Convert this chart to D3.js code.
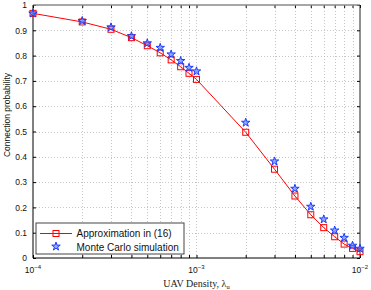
<!DOCTYPE html>
<html>
<head>
<meta charset="utf-8">
<script src="https://cdn.jsdelivr.net/npm/d3@7"></script>
<style>
  body { margin: 0; background: #fff; }
  svg { display: block; font-family: "Liberation Sans", Arial, sans-serif; }
</style>
</head>
<body>
<div id="container"></div>
<script>
/* CONSTANTS AND GLOBALS */
const width = 371,
  height = 290,
  margin = { top: 5, bottom: 32, left: 33, right: 11 };

/* DATA */
const density = [1e-4, 2e-4, 3e-4, 4e-4, 5e-4, 6e-4, 7e-4, 8e-4, 9e-4,
  1e-3, 2e-3, 3e-3, 4e-3, 5e-3, 6e-3, 7e-3, 8e-3, 9e-3, 1e-2];
const approx = [0.967, 0.933, 0.904, 0.871, 0.839, 0.811, 0.783, 0.756, 0.730,
  0.706, 0.497, 0.351, 0.245, 0.171, 0.120, 0.084, 0.055, 0.038, 0.025];
const monteCarlo = [0.967, 0.937, 0.912, 0.877, 0.849, 0.831, 0.805, 0.779, 0.752,
  0.738, 0.535, 0.382, 0.274, 0.203, 0.153, 0.109, 0.080, 0.049, 0.037];
const yTicks = [0, 0.1, 0.2, 0.3, 0.4, 0.5, 0.6, 0.7, 0.8, 0.9, 1];
const xMajor = [1e-4, 1e-3, 1e-2];
const xMajorExp = ["\u22124", "\u22123", "\u22122"];
const seriesNames = ["Approximation in (16)", "Monte Carlo simulation"];

// SCALES
const xScale = d3.scaleLog()
  .domain([1e-4, 1e-2])
  .range([margin.left, width - margin.right]);

const yScale = d3.scaleLinear()
  .domain([0, 1])
  .range([height - margin.bottom, margin.top]);

const x0 = xScale.range()[0], x1 = xScale.range()[1];
const y0 = yScale.range()[0], y1 = yScale.range()[1];

// all decade ticks 2..9
const xAll = xScale.ticks();

// CREATE SVG ELEMENT
const svg = d3.select("#container")
  .append("svg")
  .attr("width", width)
  .attr("height", height);

// GRID
svg.append("g")
  .selectAll("line")
  .data(xAll.filter(d => d > 1e-4 && d < 1e-2))
  .join("line")
  .attr("x1", d => Math.round(xScale(d)) + 0.5)
  .attr("x2", d => Math.round(xScale(d)) + 0.5)
  .attr("y1", y1).attr("y2", y0)
  .attr("stroke", "#b8b8b8")
  .attr("stroke-width", 0.8)
  .attr("stroke-dasharray", "1,2");

svg.append("g")
  .selectAll("line")
  .data(yTicks.filter(d => d > 0 && d < 1))
  .join("line")
  .attr("x1", x0).attr("x2", x1)
  .attr("y1", d => Math.round(yScale(d)) + 0.5)
  .attr("y2", d => Math.round(yScale(d)) + 0.5)
  .attr("stroke", "#b8b8b8")
  .attr("stroke-width", 0.8)
  .attr("stroke-dasharray", "1,2");

// AXES (ticks inside, MATLAB style)
const yAxisL = d3.axisLeft(yScale).tickValues(yTicks).tickSize(-3).tickPadding(6)
  .tickFormat(d => d === 0 || d === 1 ? d3.format("d")(d) : d3.format(".1f")(d));
svg.append("g")
  .attr("transform", `translate(${x0},0)`)
  .call(yAxisL)
  .call(g => g.select(".domain").remove())
  .call(g => g.selectAll("text").attr("font-size", 8.5).attr("fill", "#111").attr("font-family", "Liberation Sans, Arial, sans-serif"));

svg.append("g")
  .attr("transform", `translate(${x1},0)`)
  .call(d3.axisRight(yScale).tickValues(yTicks).tickSize(-3).tickFormat(""))
  .call(g => g.select(".domain").remove());

svg.append("g")
  .attr("transform", `translate(0,${y0})`)
  .call(d3.axisBottom(xScale).tickValues(xAll).tickSize(-3).tickFormat(""))
  .call(g => g.select(".domain").remove());

svg.append("g")
  .attr("transform", `translate(0,${y1})`)
  .call(d3.axisTop(xScale).tickValues(xAll).tickSize(-3).tickFormat(""))
  .call(g => g.select(".domain").remove());

// x tick labels 10^k
const xLab = svg.append("g")
  .selectAll("text")
  .data(xMajor)
  .join("text")
  .attr("x", d => xScale(d))
  .attr("y", y0 + 15)
  .attr("text-anchor", "middle")
  .attr("font-size", 8.5)
  .attr("fill", "#111");
xLab.append("tspan").text("10");
xLab.append("tspan")
  .attr("dy", -4)
  .attr("font-size", 6)
  .text((d, i) => xMajorExp[i]);

// FRAME
svg.append("line").attr("x1", x0).attr("x2", x1).attr("y1", y1).attr("y2", y1)
  .attr("stroke", "#8a8a8a").attr("stroke-width", 1.5);
svg.append("line").attr("x1", x0).attr("x2", x1).attr("y1", y0).attr("y2", y0)
  .attr("stroke", "#000").attr("stroke-width", 1);
svg.append("line").attr("x1", x0).attr("x2", x0).attr("y1", y1).attr("y2", y0)
  .attr("stroke", "#000").attr("stroke-width", 1);
svg.append("line").attr("x1", x1).attr("x2", x1).attr("y1", y1).attr("y2", y0)
  .attr("stroke", "#222").attr("stroke-width", 1);

// AXIS LABELS
svg.append("text")
  .attr("transform", `translate(10,115) rotate(-90)`)
  .attr("text-anchor", "middle")
  .attr("font-size", 8.5)
  .attr("fill", "#111")
  .text("Connection probability");

const xTitle = svg.append("text")
  .attr("x", (x0 + x1) / 2)
  .attr("y", 287)
  .attr("text-anchor", "middle")
  .attr("font-family", "Liberation Serif, DejaVu Serif, serif")
  .attr("font-size", 10)
  .attr("fill", "#222");
xTitle.append("tspan").text("UAV Density, \u03bb");
xTitle.append("tspan").attr("dy", 2).attr("font-size", 6.5).text("u");

// LINE + MARKERS
const approxData = density.map((d, i) => ({ x: d, y: approx[i] }));
const mcData = density.map((d, i) => ({ x: d, y: monteCarlo[i] }));

const lineGen = d3.line()
  .x(d => xScale(d.x))
  .y(d => yScale(d.y));

svg.append("path")
  .datum(approxData)
  .attr("d", lineGen)
  .attr("fill", "none")
  .attr("stroke", "#ff0000")
  .attr("stroke-width", 1);

const sq = 6;
svg.append("g")
  .selectAll("rect")
  .data(approxData)
  .join("rect")
  .attr("x", d => xScale(d.x) - sq / 2)
  .attr("y", d => yScale(d.y) - sq / 2)
  .attr("width", sq).attr("height", sq)
  .attr("fill", "none")
  .attr("stroke", "#ff0000")
  .attr("stroke-width", 1);

const star = d3.symbol().type(d3.symbolStar).size(22);
svg.append("g")
  .selectAll("path")
  .data(mcData)
  .join("path")
  .attr("transform", d => `translate(${xScale(d.x)},${yScale(d.y)})`)
  .attr("d", star)
  .attr("fill", "#5070ff")
  .attr("fill-opacity", 0.6)
  .attr("stroke", "#1a3cff")
  .attr("stroke-width", 1);

// LEGEND
const legend = svg.append("g").attr("transform", "translate(36,223)");
legend.append("rect")
  .attr("x", 0).attr("y", 0)
  .attr("width", 148).attr("height", 31)
  .attr("fill", "#fff")
  .attr("stroke", "#444")
  .attr("stroke-width", 1);
legend.append("line")
  .attr("x1", 4).attr("x2", 36).attr("y1", 10.5).attr("y2", 10.5)
  .attr("stroke", "#ff0000").attr("stroke-width", 1);
legend.append("rect")
  .attr("x", 20 - sq / 2).attr("y", 10.5 - sq / 2)
  .attr("width", sq).attr("height", sq)
  .attr("fill", "none").attr("stroke", "#ff0000");
legend.append("path")
  .attr("transform", "translate(20,23.5)")
  .attr("d", star)
  .attr("fill", "#5070ff")
  .attr("fill-opacity", 0.6)
  .attr("stroke", "#1a3cff")
  .attr("stroke-width", 1);
legend.selectAll("text.lbl")
  .data(seriesNames)
  .join("text")
  .attr("class", "lbl")
  .attr("x", 40.5)
  .attr("y", (d, i) => 14 + i * 13.5)
  .attr("font-size", 10)
  .attr("fill", "#111")
  .text(d => d);
</script>
</body>
</html>
